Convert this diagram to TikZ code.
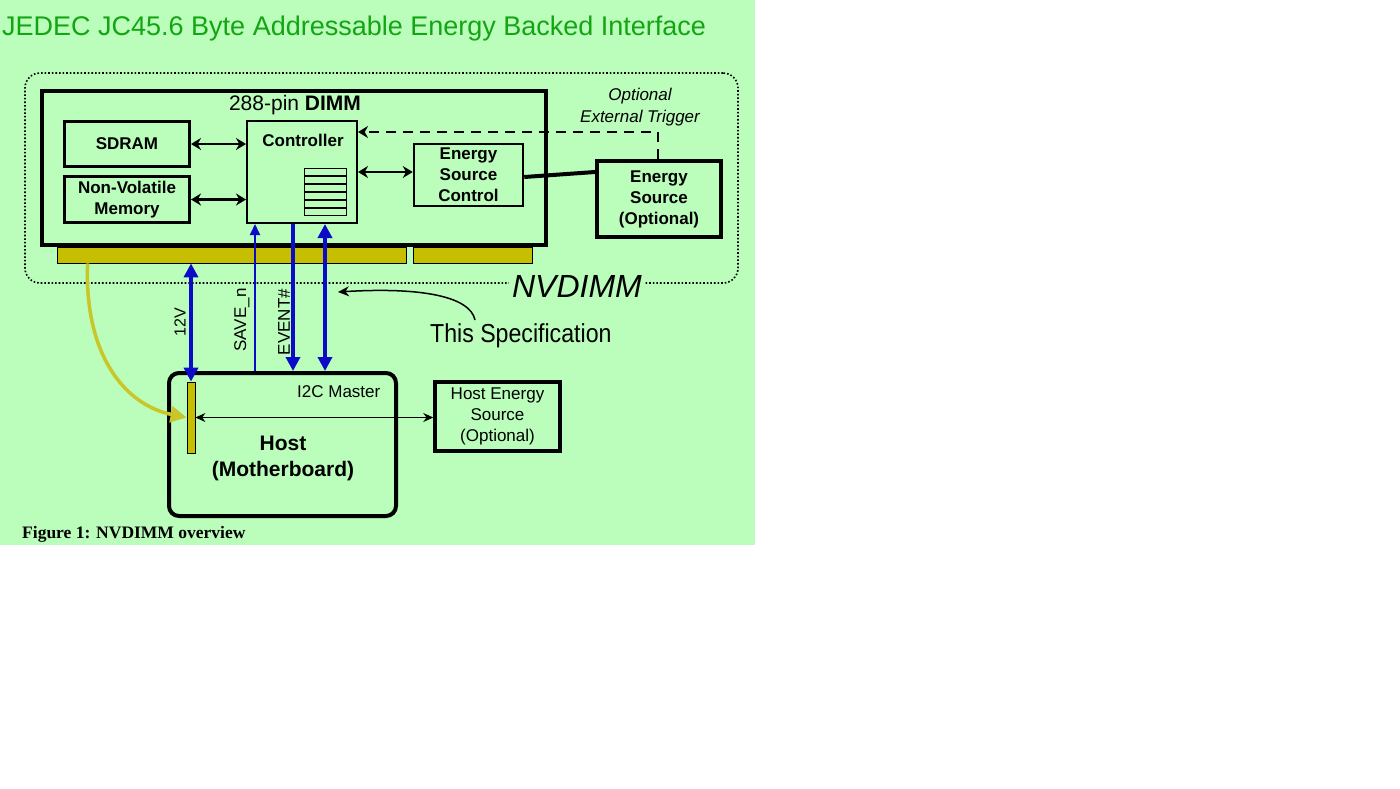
\documentclass[tikz,border=0pt]{standalone}
\usepackage{fontspec}
\setmainfont{Liberation Sans}
\newfontfamily\capfont{Liberation Serif}
\usetikzlibrary{arrows.meta,calc}

\definecolor{bggreen}{RGB}{187,253,187}
\definecolor{titlegreen}{RGB}{20,165,20}
\definecolor{padgold}{RGB}{198,190,0}
\definecolor{curvegold}{RGB}{200,198,40}
\definecolor{sigblue}{RGB}{12,12,200}

\newcommand{\setfs}[2]{\fontsize{#1}{#2}\selectfont}

\begin{document}
\begin{tikzpicture}[x=1pt, y=-1pt,
    box/.style={draw, line width=#1, inner sep=0pt, align=center},
    box/.default=3pt,
    pad/.style={draw, fill=padgold, line width=0.8pt, inner sep=0pt},
    lbl/.style={inner sep=0pt},
    link/.style={line width=2.5pt, >={Stealth[length=10pt,width=12pt]}},
    sig/.style={draw=sigblue, line width=4pt, >={Triangle[length=14pt,width=14pt]}},
    thinsig/.style={draw=sigblue, line width=2pt, >={Triangle[length=11pt,width=10pt]}},
    boldtxt/.style={font=\setfs{17}{21}\bfseries}]
    \useasboundingbox (0,0) rectangle (1400,788);
    \fill[bggreen] (0,0) rectangle (755,545);

    % Titre
    \node[lbl, anchor=base west, text=titlegreen, font=\setfs{27}{32}] (title) at (2,35)
        {JEDEC JC45.6 Byte Addressable Energy Backed Interface};

    % Cadre NVDIMM
    \node[draw, dotted, line width=1.6pt, rounded corners=15pt, inner sep=0pt,
        minimum width=713pt, minimum height=210pt] (frame) at (381.5,178) {};
    \node[lbl, fill=bggreen, inner xsep=3pt, anchor=base, font=\setfs{32}{36}\itshape] (nvdimm) at (577,297) {NVDIMM};

    % Barrette
    \node[pad, minimum width=349pt, minimum height=16pt] (lpad) at (231.5,255) {};
    \node[pad, minimum width=119pt, minimum height=16pt] (rpad) at (472.5,255) {};
    \node[box=4pt, fill=bggreen, minimum width=504pt, minimum height=154pt] (dimm) at (294,168) {};
    \node[lbl, anchor=base, font=\setfs{21}{25}] (dimmtxt) at (295,110) {288-pin \textbf{DIMM}};

    \node[box, boldtxt, minimum width=125pt, minimum height=45pt] (sdram) at (127,144) {SDRAM};
    \node[box, boldtxt, minimum width=125pt, minimum height=46pt] (nvm) at (127,199.5) {Non-Volatile\\Memory};
    \node[box=2pt, minimum width=110pt, minimum height=102pt] (ctrl) at (302,172) {};
    \node[lbl, anchor=base, boldtxt] (ctrltxt) at (303,146) {Controller};
    \node[box=1.5pt, minimum width=42pt, minimum height=47pt] (stack) at (325.5,192) {};
    \foreach \i in {1,...,5}
        \draw[line width=1.5pt] ($(stack.north west)!\i/6!(stack.south west)$) -- ($(stack.north east)!\i/6!(stack.south east)$);
    \node[box=2.5pt, boldtxt, minimum width=109pt, minimum height=62pt] (esc) at (468.5,175) {Energy\\Source\\Control};
    \node[box=4pt, boldtxt, minimum width=124pt, minimum height=76pt] (es) at (659,199) {Energy\\Source\\(Optional)};
    \node[lbl, align=center, font=\setfs{17}{22}\itshape] (trig) at (640,107) {Optional\\External Trigger};

    % Liens internes
    \draw[link, <->] (sdram.east) -- (sdram.east -| ctrl.west);
    \draw[link, <->] (nvm.east) -- (nvm.east -| ctrl.west);
    \draw[link, <->] (ctrl.east) -- (ctrl.east -| esc.west);
    \draw[line width=4pt] ($(esc.east)+(0,2)$) -- ($(es.west)+(0,-27)$);
    \coordinate (trigc) at (658,132);
    \draw[link, dashed, dash pattern=on 10pt off 7pt, ->] (es.north -| trigc) -- (trigc) -- (trigc -| ctrl.east);

    % Hote
    \node[box=4pt, rounded corners=10pt, minimum width=227pt, minimum height=143pt] (host) at (282.5,444.5) {};
    \node[pad, minimum width=8pt, minimum height=71pt] (hpad) at (191,417.5) {};
    \node[lbl, anchor=base west, font=\setfs{17}{21}] (i2c) at (297,397) {I2C Master};
    \node[lbl, align=center, font=\setfs{21}{26}\bfseries] (hosttxt) at (283,458) {Host\\(Motherboard)};
    \node[box=3.5pt, font=\setfs{17}{21}, minimum width=125pt, minimum height=69pt] (hes) at (497.5,416.5) {Host Energy\\Source\\(Optional)};
    \draw[line width=1pt, >={Stealth[length=10pt,width=9pt]}, <->] (hpad.east) -- (hpad.east -| hes.west);

    % Signaux
    \coordinate (xsave) at (255,0);
    \coordinate (xevt) at (293,0);
    \coordinate (xi2c) at (325,0);
    \draw[sig, <->] (hpad.north |- lpad.south) -- (hpad.north);
    \draw[thinsig, ->] (host.north -| xsave) -- (ctrl.south -| xsave);
    \draw[sig, ->] (ctrl.south -| xevt) -- (host.north -| xevt);
    \draw[sig, <->] (ctrl.south -| xi2c) -- (host.north -| xi2c);
    \node[lbl, rotate=90, font=\setfs{16}{20}] (v12) at (180,322) {12V};
    \node[lbl, rotate=90, font=\setfs{17}{20}] (save) at (242,320) {SAVE\_n};
    \node[lbl, rotate=90, font=\setfs{17}{20}] (event) at (284,322) {EVENT\#};

    % Fleche doree
    \coordinate (gstart) at ($(lpad.south west)+(31,0)$);
    \draw[curvegold, line width=3.5pt, -{Triangle[length=16pt,width=16pt]}]
        (gstart) .. controls (84,355) and (125,405) .. (hpad.west);

    % Specification
    \node[lbl, anchor=base west, xscale=0.89, font=\setfs{26}{30}] (spec) at (430,342) {This Specification};
    \coordinate (sps) at (475,320);
    \coordinate (spe) at (338,292);
    \draw[line width=1.5pt, -{Stealth[length=11pt,width=10pt]}] (sps) .. controls (470,296) and (420,287) .. (spe);

    % Legende
    \node[lbl, anchor=base west, font=\capfont\setfs{17.5}{20}\bfseries] (caption) at (22,538) {Figure 1: NVDIMM overview};
\end{tikzpicture}
\end{document}
